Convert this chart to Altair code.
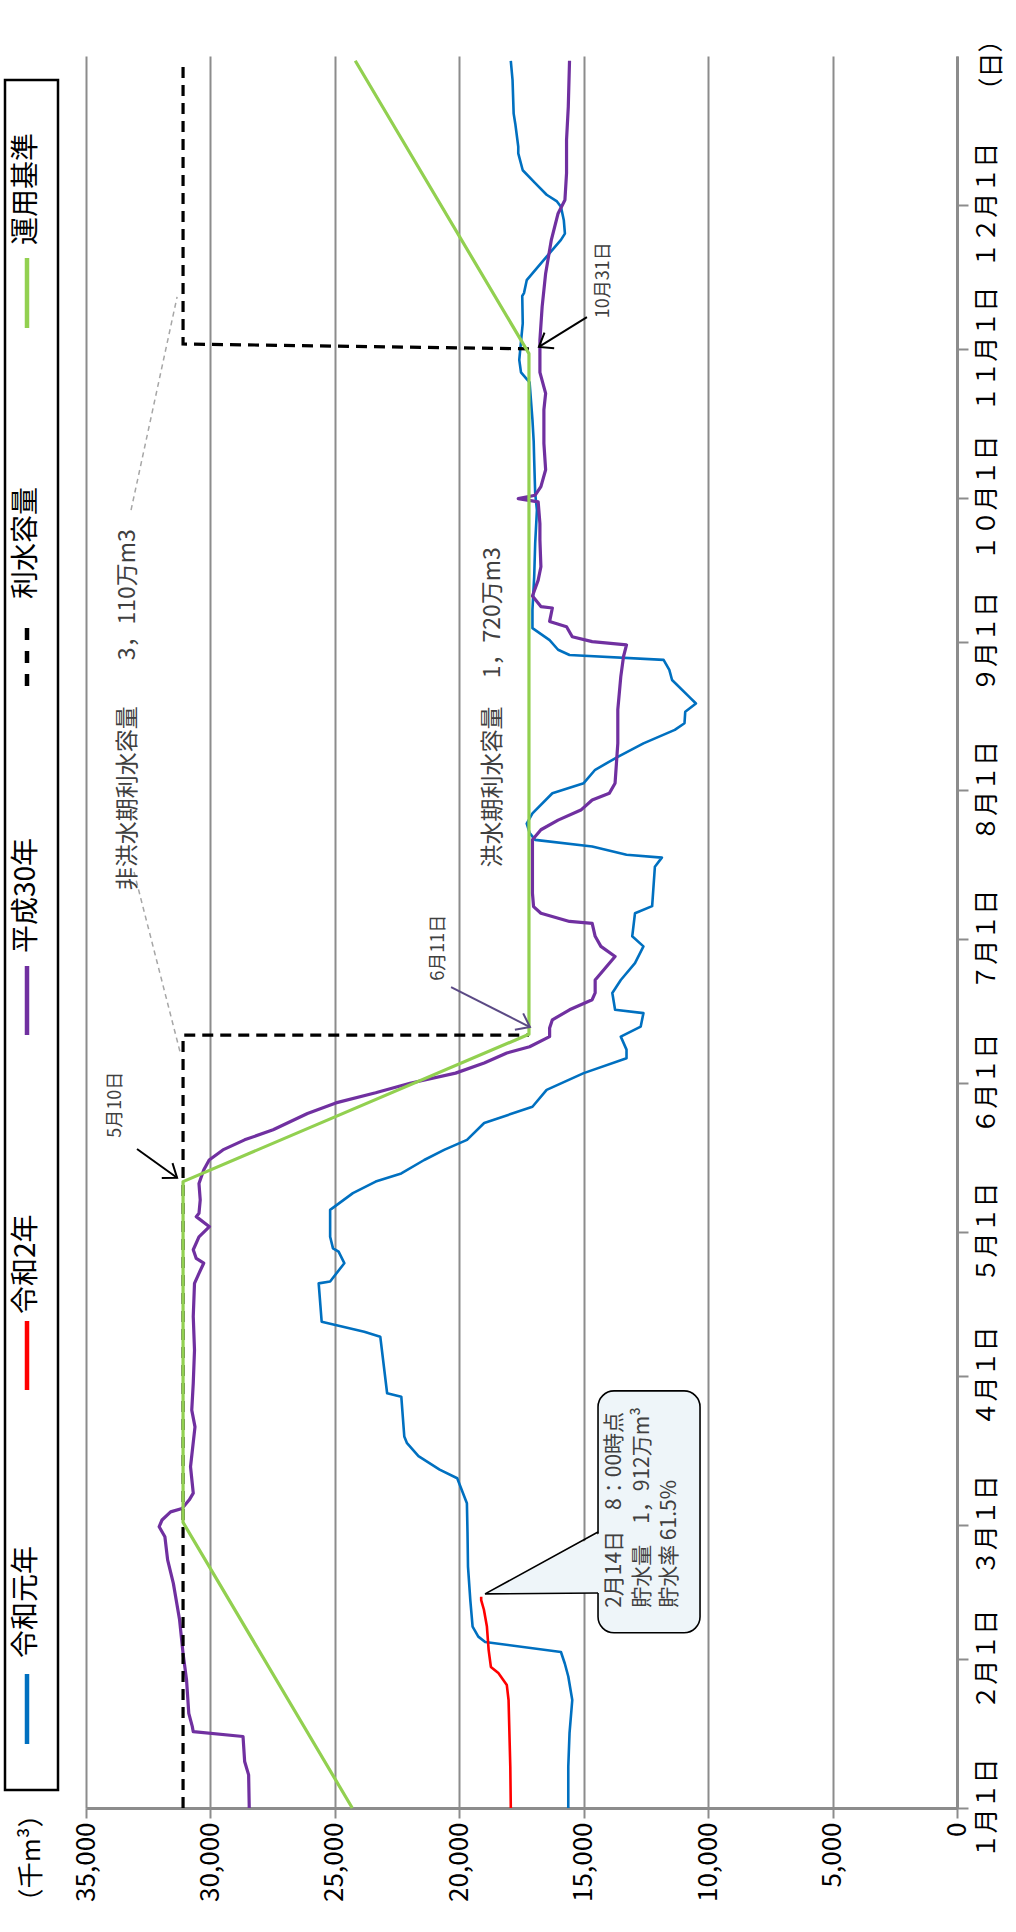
import math
import json
import altair as alt
import pandas as pd

FONT = "Noto Sans CJK JP"
GRID = "#8C8C8C"
TXT = "#404040"

# ---------------- data ----------------
series_names = ["令和元年", "令和2年", "平成30年", "利水容量", "運用基準"]
series_colors = ["#0070C0", "#FF0000", "#7030A0", "#000000", "#92D050"]

value_ticks = [0, 5000, 10000, 15000, 20000, 25000, 30000, 35000]
month_start_days = [0, 31, 59, 90, 120, 151, 181, 212, 243, 273, 304, 334]
month_labels = ["１月１日", "２月１日", "３月１日", "４月１日", "５月１日", "６月１日",
                "７月１日", "８月１日", "９月１日", "１０月１日", "１１月１日", "１２月１日"]

# 令和元年 (day of year from Jan 1, storage in 千m3)
blue_day = [0, 8.6, 15.6, 22.5, 27.4, 30.1, 32.5, 34.6, 35.7, 37.8, 43.3, 50.3, 57.5, 63.5,
            68.7, 70.5, 73.3, 76.0, 77.4, 85.7, 86.4, 98.2, 99.2, 101.3, 109.3, 109.7, 113.5,
            115.9, 116.6, 119.0, 124.6, 128.1, 130.5, 132.2, 135.0, 137.1, 139.2, 142.7, 146.1,
            149.6, 153.1, 156.2, 158.0, 160.7, 162.8, 165.6, 166.3, 169.8, 172.5, 176.0, 179.5,
            181.6, 186.4, 187.9, 196.1, 198.0, 198.6, 200.3, 201.7, 203.1, 205.1, 207.2, 211.4,
            213.5, 216.3, 219.0, 221.8, 224.6, 226.0, 228.4, 230.1, 231.5, 235.0, 237.1, 239.2,
            240.2, 241.3, 243.3, 245.8, 249.6, 256.5, 263.5, 270.4, 273.9, 280.8, 284.7, 289.2,
            297.0, 299.1, 301.7, 309.3, 315.0, 315.6, 318.3, 320.4, 323.2, 326.7, 328.0, 330.8,
            333.6, 334.7, 336.1, 338.5, 341.2, 344.7, 346.1, 350.9, 353.0, 360.0, 364.0]
blue_val = [15620, 15620, 15570, 15460, 15620, 15760, 15915, 18960, 19236, 19465, 19557, 19650,
            19670, 19694, 20083, 20790, 21640, 22100, 22210, 22330, 22900, 23175, 23820, 25530,
            25650, 25190, 24620, 24850, 25075, 25190, 25190, 24275, 23360, 22330, 21410, 20610,
            19690, 19000, 17060, 16490, 15000, 13280, 13280, 13510, 12710, 12600, 13740, 13850,
            13510, 12940, 12600, 13050, 12940, 12250, 12140, 11860, 13280, 14660, 16950, 17170,
            17290, 17060, 16260, 15000, 14540, 13630, 12600, 11340, 10950, 10920, 10490, 10760,
            11450, 11560, 11790, 15570, 16030, 16370, 17060, 17060, 16990, 16950, 16880, 16950,
            16990, 17010, 17060, 17175, 17520, 17590, 17450, 17470, 17400, 17290, 16950, 16490,
            15915, 15755, 15800, 15915, 16075, 16490, 16950, 17450, 17630, 17630, 17750, 17815,
            17860, 17930]

# 令和2年
red_day = [0, 8.6, 22.5, 25.6, 28.1, 29.4, 32.9, 37.8, 41.3, 43.3, 44.0]
red_val = [17930, 17950, 18020, 18090, 18430, 18730, 18820, 18890, 19010, 19120, 19120]

# 平成30年
purple_day = [0, 6.9, 9.7, 14.9, 15.9, 17.0, 19.7, 26.7, 32.2, 39.2, 46.8, 51.7, 56.5, 58.6,
              60.0, 61.7, 62.4, 64.2, 65.6, 71.1, 79.4, 82.9, 88.5, 95.4, 102.4, 109.3, 111.4,
              113.5, 114.5, 116.3, 119.0, 121.1, 123.2, 123.9, 126.7, 130.1, 132.9, 135.0, 137.1,
              139.2, 141.3, 144.7, 146.9, 149.0, 151.0, 153.1, 155.2, 157.3, 158.6, 160.7, 162.5,
              164.2, 166.3, 168.4, 169.8, 172.5, 173.9, 177.4, 179.5, 181.6, 184.3, 184.7, 186.4,
              187.8, 190.6, 196.8, 201.7, 203.8, 205.8, 207.9, 210.0, 211.4, 213.5, 221.8, 228.8,
              235.7, 239.9, 242.3, 243.0, 244.0, 246.1, 247.2, 250.0, 250.3, 252.5, 255.8, 258.6,
              264.2, 267.6, 272.1, 272.8, 273.5, 275.3, 278.8, 284.3, 291.3, 294.7, 299.1, 305.8,
              312.8, 319.7, 326.7, 332.2, 335.0, 340.6, 347.5, 354.4, 364.0]
purple_val = [28440, 28465, 28625, 28690, 30690, 30730, 30870, 30960, 31100, 31240, 31490, 31720,
              31830, 32060, 31945, 31600, 31140, 30850, 30690, 30800, 30620, 30750, 30690, 30640,
              30690, 30640, 30460, 30270, 30570, 30690, 30460, 30040, 30570, 30460, 30410, 30460,
              30270, 30050, 29500, 28625, 27480, 26100, 24960, 23360, 21980, 20150, 19000, 18090,
              17175, 16370, 16370, 16260, 15570, 14660, 14540, 14540, 14310, 13740, 14310, 14540,
              14660, 15570, 16720, 17015, 17060, 17060, 17060, 16720, 16030, 15115, 14660, 13970,
              13740, 13630, 13630, 13510, 13400, 13280, 14660, 15460, 15690, 16370, 16260, 16720,
              17060, 16830, 16720, 16760, 16760, 16830, 17630, 16950, 16720, 16530, 16600, 16600,
              16530, 16760, 16760, 16670, 16530, 16300, 16030, 15755, 15690, 15690, 15620, 15570]

# 運用基準
green_day = [0, 59.5, 130.5, 161.2, 303.0, 364.0]
green_val = [24300, 31100, 31100, 17200, 17200, 24180]

# 利水容量 (two dashed pieces)
cap_seg = [0, 0, 0, 1, 1, 1]
cap_day = [0, 161.0, 161.0, 304.0, 305.0, 364.0]
cap_val = [31100, 31100, 17200, 17200, 31100, 31100]

# annotation texts
note_labels = ["非洪水期利水容量　　3，110万m3", "洪水期利水容量　 1，720万m3"]
note_day = [228.8, 229.3]
note_val = [33310, 18640]

leader_seg = [0, 0, 1, 1]
leader_day = [270.4, 314.8, 195.0, 157.5]
leader_val = [33190, 31340, 33070, 31220]

arrow_labels = ["5月10日", "6月11日", "10月31日"]
arrow_label_day = [146.5, 179.2, 318.3]
arrow_label_val = [33790, 20810, 14180]
arrow_start_day = [137.3, 171.0, 310.6]
arrow_start_val = [32950, 20330, 14870]
arrow_end_day = [131.3, 162.7, 304.4]
arrow_end_val = [31340, 17160, 16800]
arrow_colors = ["#000000", "#5B4A85", "#000000"]

callout_lines = ["2月14日　8：00時点", "貯水量　1，912万m³", "貯水率 61.5%"]
callout_line_val = [13740, 12620, 11530]
callout_text_day = 41.7
callout_box_val = [14425, 10326]
callout_box_day = [36.5, 86.9]
pointer_tip = (18965, 44.6)
pointer_base_val = 14425
pointer_base_day = [44.8, 57.5]

# ---------------- scales / axes ----------------
W, H = 871, 1752
DAYS = 365
xscale = alt.Scale(domain=[0, 35000], reverse=True, nice=False, zero=True)
yscale = alt.Scale(domain=[0, DAYS], nice=False, zero=False)

label_expr = "%s[indexof(%s, datum.value)]" % (
    json.dumps(month_labels, ensure_ascii=False), json.dumps(month_start_days))

axis_x = alt.Axis(values=value_ticks, format=",d", labelAngle=270, labelAlign="right",
                  labelBaseline="middle", labelFont=FONT, labelFontSize=26, labelColor="#000000",
                  labelPadding=4, tickSize=10, tickColor=GRID, tickWidth=2, domainColor=GRID,
                  domainWidth=3, grid=True, gridColor=GRID, gridWidth=2, title=None,
                  labelFlush=False, labelOverlap=False)
axis_y = alt.Axis(orient="right", values=month_start_days, labelExpr=label_expr, labelAngle=270,
                  labelAlign="center", labelBaseline="top", labelFont=FONT, labelFontSize=25,
                  labelColor="#000000", labelPadding=6, tickSize=11, tickColor=GRID, tickWidth=2,
                  domainColor=GRID, domainWidth=3, grid=False, title=None, labelFlush=False,
                  labelOverlap=False)

X = alt.X("val:Q", scale=xscale, axis=axis_x)
Y = alt.Y("day:Q", scale=yscale, axis=axis_y)


def series_line(days, vals, color, width):
    df = pd.DataFrame({"day": days, "val": vals, "i": list(range(len(days)))})
    return alt.Chart(df).mark_line(color=color, strokeWidth=width, strokeJoin="round").encode(
        x=X, y=Y, order=alt.Order("i:Q"))


layers = []

# leader lines (gray dotted)
ldf = pd.DataFrame({"day": leader_day, "val": leader_val, "seg": leader_seg,
                    "i": list(range(len(leader_day)))})
layers.append(alt.Chart(ldf).mark_line(color="#A6A6A6", strokeWidth=1.5, strokeDash=[5, 4]).encode(
    x=X, y=Y, detail="seg:N", order=alt.Order("i:Q")))

layers.append(series_line(blue_day, blue_val, series_colors[0], 2.6))
layers.append(series_line(red_day, red_val, series_colors[1], 2.6))
layers.append(series_line(purple_day, purple_val, series_colors[2], 3.2))

cdf = pd.DataFrame({"day": cap_day, "val": cap_val, "seg": cap_seg, "i": list(range(len(cap_day)))})
layers.append(alt.Chart(cdf).mark_line(color=series_colors[3], strokeWidth=3.2,
                                       strokeDash=[11, 7]).encode(
    x=X, y=Y, detail="seg:N", order=alt.Order("i:Q")))

layers.append(series_line(green_day, green_val, series_colors[4], 3.2))

# callout box
bdf = pd.DataFrame({"val": [callout_box_val[0]], "val2": [callout_box_val[1]],
                    "day": [callout_box_day[0]], "day2": [callout_box_day[1]]})
layers.append(alt.Chart(bdf).mark_rect(fill="#EEF5F9", stroke="#000000", strokeWidth=1.6,
                                       cornerRadius=16).encode(
    x=X, x2="val2:Q", y=Y, y2="day2:Q"))
adf = pd.DataFrame({"val": [pointer_base_val - 150, pointer_tip[0]],
                    "day": [pointer_base_day[0], pointer_tip[1]],
                    "day2": [pointer_base_day[1], pointer_tip[1]]})
layers.append(alt.Chart(adf).mark_area(color="#EEF5F9", orient="vertical", opacity=1).encode(
    x=X, y=Y, y2="day2:Q"))
pdf = pd.DataFrame({"val": [pointer_base_val, pointer_tip[0], pointer_base_val],
                    "day": [pointer_base_day[1], pointer_tip[1], pointer_base_day[0]],
                    "i": [0, 1, 2]})
layers.append(alt.Chart(pdf).mark_line(color="#000000", strokeWidth=1.6).encode(
    x=X, y=Y, order=alt.Order("i:Q")))
tdf = pd.DataFrame({"val": callout_line_val, "day": [callout_text_day] * 3, "label": callout_lines})
layers.append(alt.Chart(tdf).mark_text(angle=270, align="left", baseline="middle", font=FONT,
                                       fontSize=21, color=TXT).encode(
    x=X, y=Y, text="label:N"))

# arrows
px_per_val = W / 35000.0
px_per_day = H / DAYS
chev = "M-1,-0.75L0,0L-1,0.75"
for k in range(len(arrow_labels)):
    sdf = pd.DataFrame({"val": [arrow_start_val[k], arrow_end_val[k]],
                        "day": [arrow_start_day[k], arrow_end_day[k]], "i": [0, 1]})
    layers.append(alt.Chart(sdf).mark_line(color=arrow_colors[k], strokeWidth=2).encode(
        x=X, y=Y, order=alt.Order("i:Q")))
    dx = -(arrow_end_val[k] - arrow_start_val[k]) * px_per_val
    dy = -(arrow_end_day[k] - arrow_start_day[k]) * px_per_day
    ang = math.degrees(math.atan2(dy, dx)) % 360
    edf = pd.DataFrame({"val": [arrow_end_val[k]], "day": [arrow_end_day[k]]})
    layers.append(alt.Chart(edf).mark_point(shape=chev, filled=False, size=600, angle=ang,
                                            color=arrow_colors[k], strokeWidth=2, opacity=1).encode(
        x=X, y=Y))

aldf = pd.DataFrame({"val": arrow_label_val, "day": arrow_label_day, "label": arrow_labels})
layers.append(alt.Chart(aldf).mark_text(angle=270, align="center", baseline="middle", font=FONT,
                                        fontSize=18, color=TXT).encode(
    x=X, y=Y, text="label:N"))

ndf = pd.DataFrame({"val": note_val, "day": note_day, "label": note_labels})
layers.append(alt.Chart(ndf).mark_text(angle=270, align="center", baseline="middle", font=FONT,
                                       fontSize=23, color=TXT).encode(
    x=X, y=Y, text="label:N"))

# ---------------- legend (drawn, rotated) ----------------
one = pd.DataFrame({"k": [0]})
TOP = 56
LEFT = 86
layers.append(alt.Chart(one).mark_rect(fillOpacity=0, stroke="#000000", strokeWidth=2.5).encode(
    x=alt.value(5 - LEFT), x2=alt.value(58 - LEFT), y=alt.value(80 - TOP), y2=alt.value(1790 - TOP)))

# (name index, text bottom y, line top y, line bottom y) in page pixels
legend_layout = [(4, 249, 258, 328), (3, 603, 628, 686), (2, 957, 966, 1035),
                 (1, 1318, 1321, 1390), (0, 1662, 1674, 1744)]
for idx, tb, l1, l2 in legend_layout:
    dash = [12, 11] if idx == 3 else [1, 0]
    layers.append(alt.Chart(one).mark_rule(color=series_colors[idx], strokeWidth=4.5,
                                           strokeDash=dash).encode(
        x=alt.value(27 - LEFT), y=alt.value(l1 - TOP), y2=alt.value(l2 - TOP)))
    layers.append(alt.Chart(one).mark_text(angle=270, align="left", baseline="middle", font=FONT,
                                           fontSize=28, color="#000000").encode(
        x=alt.value(27 - LEFT), y=alt.value(tb - 4 - TOP), text=alt.value(series_names[idx])))

layers.append(alt.Chart(one).mark_text(angle=270, align="center", baseline="middle", font=FONT,
                                       fontSize=26, color="#000000").encode(
    x=alt.value(32 - LEFT), y=alt.value(1858 - TOP), text=alt.value("（千m³）")))
layers.append(alt.Chart(one).mark_text(angle=270, align="center", baseline="middle", font=FONT,
                                       fontSize=25, color="#000000").encode(
    x=alt.value(992 - LEFT), y=alt.value(65 - TOP), text=alt.value("（日）")))

chart = alt.layer(*layers).properties(
    width=W, height=H,
    autosize=alt.AutoSizeParams(type="none"),
    padding={"left": LEFT, "top": TOP, "right": 1016 - LEFT - W, "bottom": 1932 - TOP - H},
    background="#FFFFFF",
).configure_view(stroke=None)

chart.save("out.html", embed_options={"renderer": "svg", "actions": False})
